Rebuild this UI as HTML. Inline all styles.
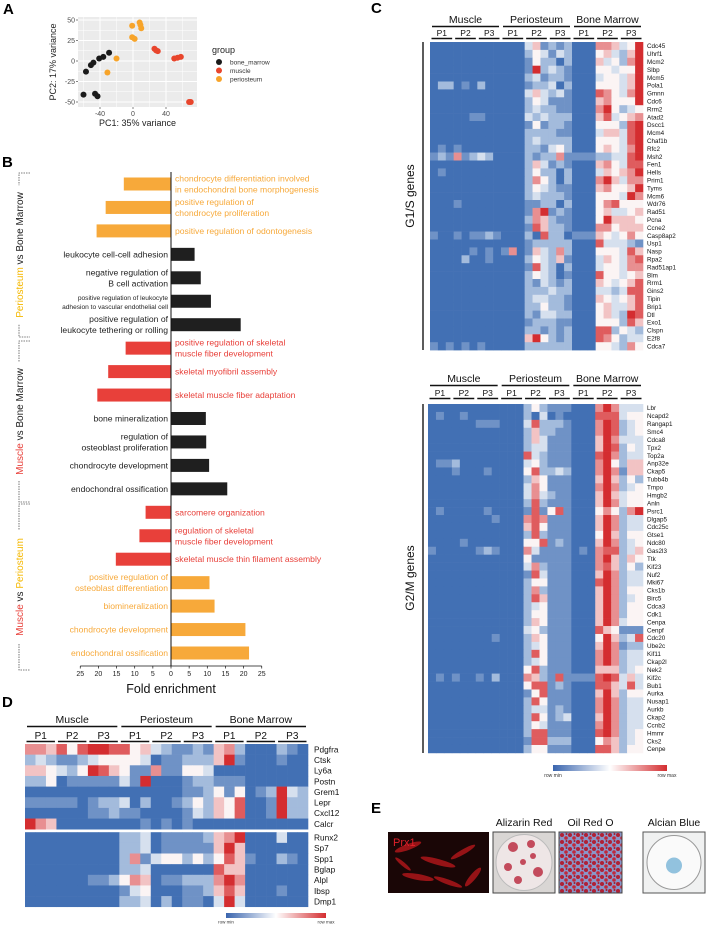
<!DOCTYPE html>
<html><head><meta charset="utf-8">
<style>
html,body{margin:0;padding:0;background:#fff;}
svg{display:block;font-family:"Liberation Sans",Arial,sans-serif;}
</style></head>
<body>
<svg id="fig" width="708" height="927" viewBox="0 0 708 927" xmlns="http://www.w3.org/2000/svg">
<text x="3" y="14" font-size="15" font-weight="bold">A</text>
<text x="2" y="167" font-size="15" font-weight="bold">B</text>
<text x="371" y="13" font-size="15" font-weight="bold">C</text>
<text x="2" y="707" font-size="15" font-weight="bold">D</text>
<text x="371" y="813" font-size="15" font-weight="bold">E</text>
</svg>
<script>
// ---------- DATA ----------
// Panel A PCA
const bmX = [-57,-51,-48,-41,-36,-29,-60,-46,-43];
const bmY = [-13,-5,-2,3,5,10,-41,-40,-43];
const musX = [26,28,30,50,54,58,68,70];
const musY = [15,13,12,3,4,5,-50,-50];
const perX = [-1,8,10,-1,2,-20,-31,9];
const perY = [43,47,40,29,27,3,-14,44];
const pcaXTicks = [-40,0,40];
const pcaYTicks = [50,25,0,-25,-50];
const legendGroups = ['bone_marrow','muscle','periosteum'];

// Panel B GO enrichment
const goTerms = [
 ['chondrocyte differentiation involved','in endochondral bone morphogenesis'],
 ['positive regulation of','chondrocyte proliferation'],
 ['positive regulation of odontogenesis'],
 ['leukocyte cell-cell adhesion'],
 ['negative regulation of','B cell activation'],
 ['positive regulation of leukocyte','adhesion to vascular endothelial cell'],
 ['positive regulation of','leukocyte tethering or rolling'],
 ['positive regulation of skeletal','muscle fiber development'],
 ['skeletal myofibril assembly'],
 ['skeletal muscle fiber adaptation'],
 ['bone mineralization'],
 ['regulation of','osteoblast proliferation'],
 ['chondrocyte development'],
 ['endochondral ossification'],
 ['sarcomere organization'],
 ['regulation of skeletal','muscle fiber development'],
 ['skeletal muscle thin filament assembly'],
 ['positive regulation of','osteoblast differentiation'],
 ['biomineralization'],
 ['chondrocyte development'],
 ['endochondral ossification']];
const goValues = [-13,-18,-20.5,6.5,8.2,11,19.2,-12.5,-17.3,-20.3,9.6,9.7,10.5,15.5,-7,-8.7,-15.2,10.6,12,20.5,21.5];
const goColorKey = ['o','o','o','k','k','k','k','r','r','r','k','k','k','k','r','r','r','o','o','o','o'];
const foldTicks = [-25,-20,-15,-10,-5,0,5,10,15,20,25];

// Panel C heatmaps (27 columns: Muscle P1-3, Periosteum P1-3, Bone Marrow P1-3 x 3)
const g1sGenes = ['Cdc45','Uhrf1','Mcm2','Slbp','Mcm5','Pola1','Gmnn','Cdc6','Rrm2','Atad2','Dscc1','Mcm4','Chaf1b','Rfc2','Msh2','Fen1','Hells','Prim1','Tyms','Mcm6','Wdr76','Rad51','Pcna','Ccne2','Casp8ap2','Usp1','Nasp','Rpa2','Rad51ap1','Blm','Rrm1','Gins2','Tipin','Brip1','Dtl','Exo1','Clspn','E2f8','Cdca7'];
const g1sValues = [
'111111111111462323111776459','111111111111354243111564369','111111111111253313111645379',
'111111111111293432111554559','111111111111342332111455469','133121311111233413111555469',
'111111111111464342111875479','111111111111354222111675559','111111111111343322111795345',
'111112211111434333111684567','111111111111252332111555389','111111111111333322111466489',
'111111111111343333111555489','121211111111332453111565479','232723431111323372222334489',
'111111111111364232111675488','121111111111353313111465679','111111111111375313111796477',
'111111111111354322111675569','111111111111343332111555497','111211111111223313111578555',
'111111111111279232111564456','111111111111376322111596665','111111111111286332111775666',
'211212232111318331222654575','111111111111233333111844432','111112121271264373111555486',
'111131121111354362111465478','111111111111284313111455477','111111111111354312111855456',
'111111111111324323111654568','111111111111333433111443488','111111111111344332111654568',
'111111111111335332111564468','111111111111324433111564398','111111111111233322111555386',
'111111111111332323111883543','111111111111695323111875344','212121211111333333111554375'];
const g2mGenes = ['Lbr','Ncapd2','Rangap1','Smc4','Cdca8','Tpx2','Top2a','Anp32e','Ckap5','Tubb4b','Tmpo','Hmgb2','Anln','Psrc1','Dlgap5','Cdc25c','Gtse1','Ndc80','Gas2l3','Ttk','Kif23','Nuf2','Mki67','Cks1b','Birc5','Cdca3','Cdk1','Cenpa','Cenpf','Cdc20','Ube2c','Kif11','Ckap2l','Nek2','Kif2c','Bub1','Aurka','Nusap1','Aurkb','Ckap2','Ccnb2','Hmmr','Cks2','Cenpe'];
const g2mValues = [
'111111111111353222111797444','121121111111314121111888455','111111222111483332111798345',
'111111111111363322111798345','111111111111364222111697444','111111111111344222111698354',
'111111111111843222111897344','122311111111453222111795366','111211121111583343111797266',
'111111111111365222111696353','111111111111475222111797345','111111111111474322111696455',
'111111111111383222111697455','121111121111282582111575379','111111112111787222111697344',
'111111111111685222111697344','111111111111383222111596355','111121111111558232111697345',
'211111232111742222121788346','111111111111522222111796365','111111111111473222111786353',
'111111111111284222111697344','111111111111355222111897344','111111111111373222111697355',
'111111111111386222111697345','111111111111345222111697355','111111111111355222111697355',
'111111111111365222111697455','111111111111453222111865222','111111112111365222111596348',
'111111111111345222111697233','111111111111385222111797344','111111111111345222111797344',
'111111111111583222111666345','121211213111763282222898464','111111111111588232111886484',
'111111111111258222111696355','111111111111385222111797344','111111111111344232111797344',
'111111111111385234111697344','111111111111354222111797344','111111111111388222111897345',
'111111111111288333111576345','111111111111355222111886355'];

// Panel D
const dGenes = ['Pdgfra','Ctsk','Ly6a','Postn','Grem1','Lepr','Cxcl12','Calcr','Runx2','Sp7','Spp1','Bglap','Alpl','Ibsp','Dmp1'];
const dValues = [
'776858998856432232673111321','343223455554122333692111211','665435986522722554111111111',
'335122222429111233222111111','111111111111111223525123943','222221233413112353658112933',
'111111223221111243658112933','976111111112121211111111111','111111111334122223679111411',
'111111111334122222696111111','111111111372455353586211321','111111111334111111866111111',
'111111223576122333797111111','111111111245111223686111211','111111111334131221494111111'];
const groupNames = ['Muscle','Periosteum','Bone Marrow'];
const passageNames = ['P1','P2','P3'];

// ---------- HELPERS ----------
const NS='http://www.w3.org/2000/svg';
const svg=document.getElementById('fig');
function mk(tag,attrs,parent){const e=document.createElementNS(NS,tag);for(const k in attrs)e.setAttribute(k,attrs[k]);(parent||svg).appendChild(e);return e;}
function txt(s,attrs,parent){const e=mk('text',attrs,parent);e.textContent=s;return e;}
const palette=['#3a65ae','#4270b4','#6f92c6','#a3bbdc','#d6e0ee','#fbf4f4','#f2c3c4','#e88f91','#df5c5e','#d42d30'];
const COL={o:'#f7a93a',k:'#1f1f1f',r:'#e8403a'};

// ---------- PANEL A ----------
const gA=mk('g',{});


const ax={x0:78,x1:197,y0:17,y1:107};
const sx=v=>133+v*0.825, sy=v=>61-v*0.82;
const bg=mk('rect',{x:ax.x0,y:ax.y0,width:ax.x1-ax.x0,height:ax.y1-ax.y0,fill:'#ebebeb'},gA);


[-60,-20,20,60].forEach(v=>{mk('line',{x1:sx(v),x2:sx(v),y1:ax.y0,y2:ax.y1,stroke:'#fff','stroke-width':0.5},gA);});
[37.5,12.5,-12.5,-37.5].forEach(v=>{mk('line',{x1:ax.x0,x2:ax.x1,y1:sy(v),y2:sy(v),stroke:'#fff','stroke-width':0.5},gA);});
pcaXTicks.forEach(v=>{
 mk('line',{x1:sx(v),x2:sx(v),y1:ax.y0,y2:ax.y1,stroke:'#fff','stroke-width':1},gA);
 mk('line',{x1:sx(v),x2:sx(v),y1:ax.y1,y2:ax.y1+2,stroke:'#333','stroke-width':0.6},gA);
 const t=txt(String(v),{x:sx(v),y:ax.y1+9,'font-size':7,fill:'#4d4d4d','text-anchor':'middle'},gA);
 
 
});
pcaYTicks.forEach(v=>{
 mk('line',{x1:ax.x0,x2:ax.x1,y1:sy(v),y2:sy(v),stroke:'#fff','stroke-width':1},gA);
 mk('line',{x1:ax.x0-2,x2:ax.x0,y1:sy(v),y2:sy(v),stroke:'#333','stroke-width':0.6},gA);
 const t=txt(String(v),{x:ax.x0-3,y:sy(v)+2.5,'font-size':7,fill:'#4d4d4d','text-anchor':'end'},gA);
 
 
});
const xt=txt('PC1: 35% variance',{x:(ax.x0+ax.x1)/2,y:126,'font-size':9,'text-anchor':'middle',fill:'#222'},gA);


const yt=txt('PC2: 17% variance',{x:0,y:0,'font-size':9,'text-anchor':'middle',fill:'#222',transform:'translate(56,62) rotate(-90)'},gA);


function pts(xs,ys,color,name){xs.forEach((x,i)=>{const c=mk('circle',{cx:sx(x),cy:sy(ys[i]),r:3,fill:color},gA);
 
 });}
pts(bmX,bmY,'#1a1a1a','point-bone-marrow');
pts(musX,musY,'#e8452c','point-muscle');
pts(perX,perY,'#f7a42a','point-periosteum');
const lg=txt('group',{x:212,y:53,'font-size':9,fill:'#222'},gA);


const lgCols=['#1a1a1a','#e8452c','#f7a42a'];
legendGroups.forEach((g,i)=>{
 const e=mk('g',{},gA);
 
 
 mk('circle',{cx:219,cy:62+i*8.5,r:3,fill:lgCols[i]},e);
 txt(g,{x:230,y:64.5+i*8.5,'font-size':6.5,fill:'#333'},e);
});

// ---------- PANEL B ----------
const gB=mk('g',{});


const bx=v=>171+v*3.63;
const by=i=>184+i*23.45;
goValues.forEach((v,i)=>{
 const x0=Math.min(bx(0),bx(v)), w=Math.abs(bx(v)-bx(0));
 const r=mk('rect',{x:x0,y:by(i)-6.5,width:w,height:13,fill:COL[goColorKey[i]]},gB);
 
 
 const lines=goTerms[i];
 const small=(i===5);
 const fs=small?6.6:8.6, lh=small?9:11;
 const onRight=v<0;
 const t=txt('',{x:0,y:0,'font-size':fs,fill:COL[goColorKey[i]],'text-anchor':onRight?'start':'end'},gB);
 
 
 lines.forEach((ln,j)=>{
  const s=mk('tspan',{x:onRight?bx(0)+4:bx(0)-3,y:by(i)+3-(lines.length-1)*lh/2+j*lh},t);
  s.textContent=ln;
 });
});
const axl=mk('line',{x1:bx(0),x2:bx(0),y1:172,y2:666,stroke:'#111','stroke-width':1},gB);


const xax=mk('line',{x1:bx(-25),x2:bx(25),y1:666,y2:666,stroke:'#111','stroke-width':0.8},gB);


foldTicks.forEach(v=>{
 mk('line',{x1:bx(v),x2:bx(v),y1:666,y2:668.5,stroke:'#111','stroke-width':0.7},gB);
 const t=txt(String(Math.abs(v)),{x:bx(v),y:676,'font-size':7,'text-anchor':'middle',fill:'#222'},gB);
 
 
});
const ft=txt('Fold enrichment',{x:bx(0),y:693,'font-size':12.5,'text-anchor':'middle',fill:'#111'},gB);


// comparison brackets
const brackets=[
 {top:173,bot:337,parts:[['Periosteum','#f5b800'],[' vs ','#222'],['Bone Marrow','#222']],name:'comparison-periosteum-vs-bone-marrow'},
 {top:341,bot:502,parts:[['Muscle','#e8403a'],[' vs ','#222'],['Bone Marrow','#222']],name:'comparison-muscle-vs-bone-marrow'},
 {top:504,bot:670,parts:[['Muscle','#e8403a'],[' vs ','#222'],['Periosteum','#f5b800']],name:'comparison-muscle-vs-periosteum'}];
brackets.forEach(b=>{
 const g=mk('g',{},gB);
 
 
 const mid=(b.top+b.bot)/2;
 const len=b.parts.map(p=>p[0]).join('').length*5.1;
 const st={stroke:'#555','stroke-width':0.8,'stroke-dasharray':'1.5,1',fill:'none'};
 mk('path',Object.assign({d:`M30 ${b.top} L19 ${b.top} L19 ${mid-len/2-6}`},st),g);
 mk('path',Object.assign({d:`M19 ${mid+len/2+6} L19 ${b.bot} L30 ${b.bot}`},st),g);
 const t=txt('',{x:0,y:0,'font-size':10,'text-anchor':'middle',transform:`translate(23,${mid}) rotate(-90)`},g);
 b.parts.forEach(p=>{const s=mk('tspan',{fill:p[1]},t);s.textContent=p[0];});
});

// ---------- HEATMAP helper ----------
function heatmap(name,genes,values,x0,x1,y0,rowH,opts){
 const g=mk('g',{});
 
 
 const cw=(x1-x0)/27;
 values.forEach((row,r)=>{
  const yy=y0+r*rowH+((opts.gapAfter!=null&&r>opts.gapAfter)?opts.gap:0);
  for(let c=0;c<27;c++){
   const cell=mk('rect',{x:x0+c*cw,y:yy,width:cw+0.3,height:rowH+0.3,fill:palette[+row[c]]},g);
   
   
  }
  const lab=txt(genes[r],{x:x1+opts.labDx,y:yy+rowH/2+opts.fs*0.36,'font-size':opts.fs,fill:'#111'},g);
  
  
 });
 // headers
 const gw=(x1-x0)/3;
 groupNames.forEach((gn,i)=>{
  const h=txt(gn,{x:x0+gw*i+gw/2,y:opts.hy,'font-size':opts.hfs,'text-anchor':'middle',fill:'#111'},g);
  
  
  mk('line',{x1:x0+gw*i+2,x2:x0+gw*(i+1)-2,y1:opts.hy+3.5,y2:opts.hy+3.5,stroke:'#111','stroke-width':1.6},g);
  passageNames.forEach((p,j)=>{
   const pw=gw/3, px=x0+gw*i+pw*j;
   const pl=txt(p,{x:px+pw/2,y:opts.py,'font-size':opts.pfs,'text-anchor':'middle',fill:'#111'},g);
   
   
   mk('line',{x1:px+1.5,x2:px+pw-1.5,y1:opts.py+2.5,y2:opts.py+2.5,stroke:'#111','stroke-width':1.4},g);
  });
 });
 return g;
}
// Panel C
heatmap('g1s-heatmap',g1sGenes,g1sValues,430,643,42,7.9,{labDx:4,fs:6.3,hy:23,hfs:10.5,py:36,pfs:8.5});
heatmap('g2m-heatmap',g2mGenes,g2mValues,428,643,404,7.93,{labDx:4,fs:6.3,hy:382,hfs:10.5,py:396,pfs:8.5});
[[42,350,196,'G1/S genes'],[404,753,578,'G2/M genes']].forEach(d=>{
 const l=mk('line',{x1:423,x2:423,y1:d[0],y2:d[1],stroke:'#333','stroke-width':1.6});
 
 
 const t=txt(d[3],{x:0,y:0,'font-size':12,'text-anchor':'middle',fill:'#111',transform:`translate(414,${d[2]}) rotate(-90)`});
 
 
});
// Panel D
heatmap('marker-heatmap',dGenes,dValues,25,308,744,10.65,{labDx:6,fs:8.3,hy:723,hfs:10.5,py:739,pfs:10,gapAfter:7,gap:3});

// colorbars
function colorbar(name,x,y,w,h,fs){
 const g=mk('g',{});
 
 
 const id='grad'+name;
 const defs=mk('defs',{},g);
 const lgd=mk('linearGradient',{id:id,x1:0,x2:1,y1:0,y2:0},defs);
 [['0','#3a65ae'],['0.5','#ffffff'],['1','#d42d30']].forEach(s=>mk('stop',{offset:s[0],'stop-color':s[1]},lgd));
 mk('rect',{x:x,y:y,width:w,height:h,fill:`url(#${id})`},g);
 txt('row min',{x:x,y:y+h+fs+1,'font-size':fs,fill:'#333','text-anchor':'middle'},g);
 txt('row max',{x:x+w,y:y+h+fs+1,'font-size':fs,fill:'#333','text-anchor':'middle'},g);
}
colorbar('c-colorbar',553,765,114,6,5);
colorbar('d-colorbar',226,913,100,5,4.5);

// ---------- PANEL E ----------
const gE=mk('g',{});


const imgs=[[388,489,'Prx1'],[493,555,'Alizarin Red'],[559,622,'Oil Red O'],[643,705,'Alcian Blue']];
const defsE=mk('defs',{},gE);
const pat=mk('pattern',{id:'oilpat',width:8,height:7,patternUnits:'userSpaceOnUse'},defsE);
mk('rect',{width:8,height:7,fill:'#8a96c8'},pat);
mk('circle',{cx:2,cy:2,r:2,fill:'#b02035'},pat);
mk('circle',{cx:6,cy:5,r:1.8,fill:'#c1283a'},pat);
mk('circle',{cx:6.5,cy:1,r:1,fill:'#a01d30'},pat);
imgs.forEach((im,i)=>{
 const g=mk('g',{},gE);
 
 
 const x=im[0],w=im[1]-im[0],y=832,h=61;
 if(i===0){
  mk('rect',{x:x,y:y,width:w,height:h,fill:'#1a0606'},g);
  [[20,15,14,3,-20],[50,30,18,3,15],[75,20,14,2.5,-30],[30,45,16,3,10],[85,45,12,3,-50],[60,50,15,2.5,20],[15,32,10,2,40]].forEach(e=>mk('ellipse',{cx:x+e[0],cy:y+e[1],rx:e[2],ry:e[3],fill:'#c0181c',opacity:0.75,transform:`rotate(${e[4]} ${x+e[0]} ${y+e[1]})`},g));
  const t=txt('Prx1',{x:x+5,y:y+14,'font-size':11,fill:'#e0202a'},g);
  
  
 } else if(i===1){
  mk('rect',{x:x,y:y,width:w,height:h,fill:'#d9d6d4',stroke:'#444','stroke-width':1},g);
  mk('circle',{cx:x+w/2,cy:y+h/2,r:28,fill:'#eee6e6',stroke:'#bbb'},g);
  [[20,15,5],[38,12,4],[15,35,4],[30,30,3],[45,40,5],[25,48,4],[40,24,3]].forEach(e=>mk('circle',{cx:x+e[0],cy:y+e[1],r:e[2],fill:'#b8243a',opacity:0.8},g));
 } else if(i===2){
  mk('rect',{x:x,y:y,width:w,height:h,fill:'url(#oilpat)',stroke:'#444','stroke-width':1},g);
 } else {
  mk('rect',{x:x,y:y,width:w,height:h,fill:'#f0f1f1',stroke:'#555','stroke-width':1},g);
  mk('circle',{cx:x+w/2,cy:y+h/2,r:27,fill:'#fafafa',stroke:'#999'},g);
  mk('circle',{cx:x+w/2,cy:y+h/2+3,r:8,fill:'#7fb7d8',opacity:0.85},g);
 }
 if(i>0){
  const t=txt(im[2],{x:x+w/2,y:826,'font-size':10.5,'text-anchor':'middle',fill:'#111'},g);
  
  
 }
});
</script>
</body></html>
